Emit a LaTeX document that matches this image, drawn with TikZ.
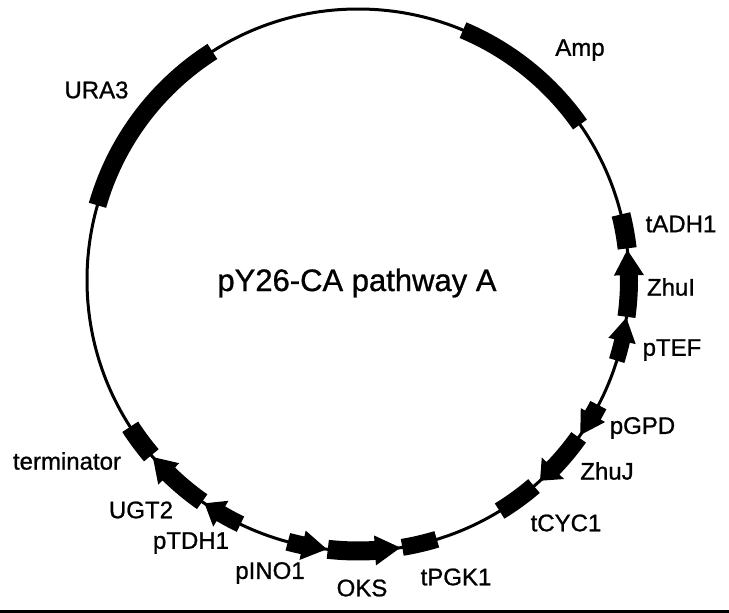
\documentclass[tikz,border=0pt]{standalone}
\usepackage{fontspec}
\setmainfont{Liberation Sans}[FakeBold=0.9]
\usepackage{tikz}
\usetikzlibrary{arrows.meta,positioning}

% gene on the plasmid: base angle, shoulder angle, tip angle, body width, head width
\newcommand{\genearrow}[5]{%
  \fill (#1:271-#4/2) arc[start angle=#1, end angle=#2, radius=271-#4/2]
    -- (#2:271-#5/2) -- (#3:271) -- (#2:271+#5/2)
    -- (#2:271+#4/2) arc[start angle=#2, end angle=#1, radius=271+#4/2] -- cycle;}

\begin{document}
\begin{tikzpicture}[x=1pt,y=1pt,
      lab/.style={font=\fontsize{24}{28}\selectfont, inner sep=0pt},
      title/.style={font=\fontsize{31}{36}\selectfont, inner sep=0pt},
      plasmid/.style={line width=3pt, color=black}
  ]
    \useasboundingbox (0,0) rectangle (729,-613);
    \fill[white] (0,0) rectangle (729,-613);
    \fill (0,-610) rectangle (729,-613);

    \begin{scope}[shift={(358,-280)}]
      \draw[plasmid] (0,0) circle[radius=271];
      % plain markers
      \foreach \from/\to/\wid in {67.2/35/17, 122.5/164/18, 14/6.7/19, -49.5/-58.5/18, -73.1/-80.6/17, -147.2/-139.7/19} {
        \draw[line width=\wid pt] (\from:271) arc[start angle=\from, end angle=\to, radius=271];
      }
      % arrows
      \genearrow{-7.8}{1}{6.4}{18}{30}    % ZhuI
      \genearrow{-17.3}{-13}{-8}{16}{28}  % pTEF
      \genearrow{-27.5}{-29.9}{-34.9}{18}{28} % pGPD
      \genearrow{-35.5}{-44}{-47.8}{18}{31}   % ZhuJ
      \genearrow{-96.4}{-86.4}{-81}{19}{30}   % OKS
      \genearrow{-105}{-101.8}{-96.6}{18}{30} % pINO1
      \genearrow{-115.7}{-120.4}{-124.5}{17}{30} % pTDH1
      \genearrow{-125.1}{-134.3}{-139.2}{18}{30} % UGT2
    \end{scope}

    \node[title] (name) at (357,-283) {pY26-CA pathway A};
    \node[lab] (amp) at (580,-50) {Amp};
    \node[lab] (ura) at (96.5,-90) {URA3};
    \node[lab] (tadh) at (681,-224) {tADH1};
    \node[lab] (zhui) at (671,-287) {ZhuI};
    \node[lab] (ptef) at (672,-350) {pTEF};
    \node[lab] (pgpd) at (642.5,-428) {pGPD};
    \node[lab] (zhuj) at (607,-471) {ZhuJ};
    \node[lab] (tcyc) at (566,-523) {tCYC1};
    \node[lab] (tpgk) at (456,-577) {tPGK1};
    \node[lab] (oks) at (362,-588) {OKS};
    \node[lab] (pino) at (270,-573) {pINO1};
    \node[lab] (ptdh) at (191,-543) {pTDH1};
    \node[lab] (ugt) at (141,-510) {UGT2};
    \node[lab] (term) at (67,-461) {terminator};
  \end{tikzpicture}
\end{document}
